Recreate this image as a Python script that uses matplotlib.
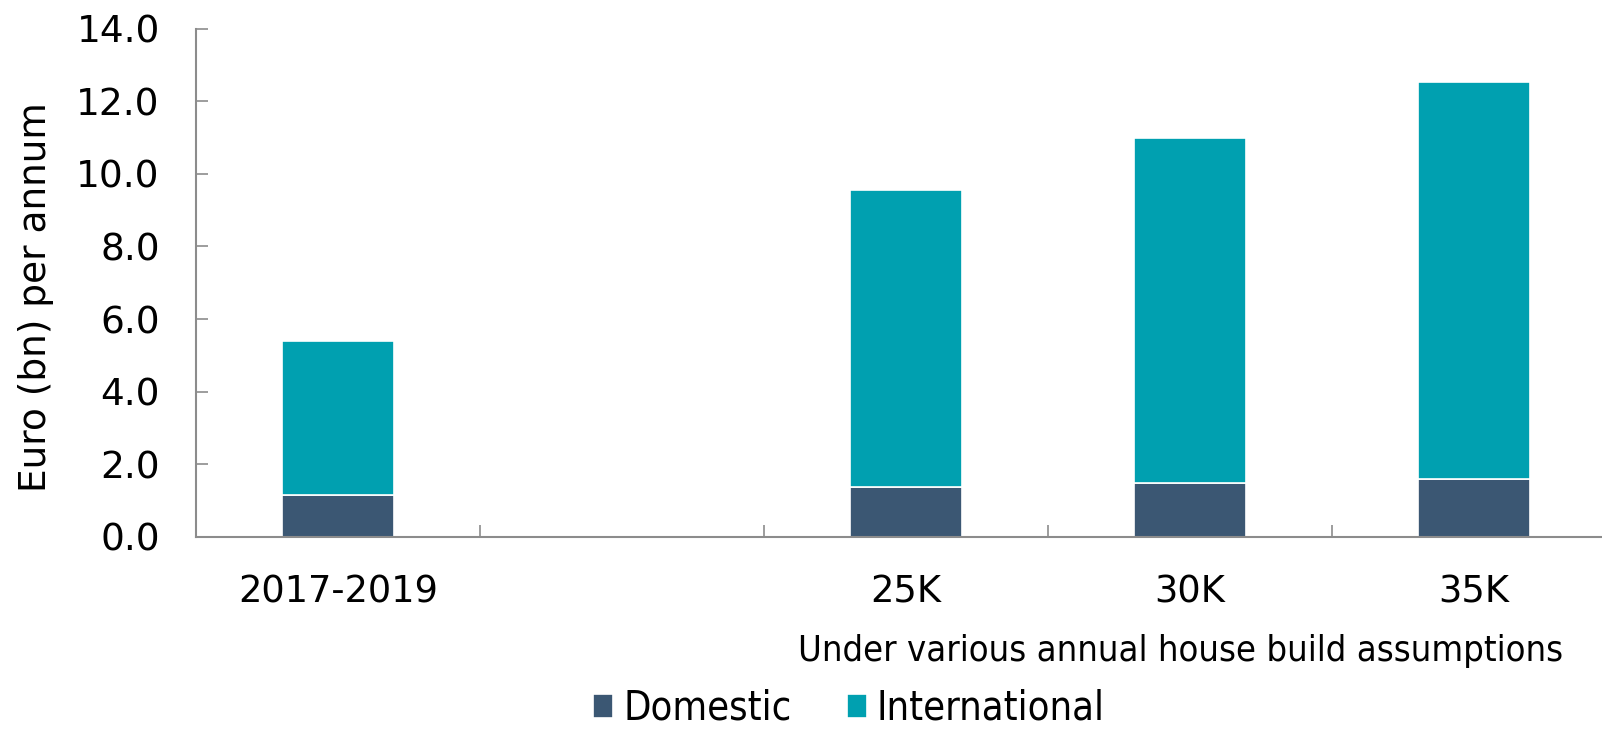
import matplotlib.pyplot as plt
import numpy as np

categorias = ["2017-2019", "", "25K", "30K", "35K"]
domestico = [1.15, np.nan, 1.38, 1.49, 1.60]
total = [5.40, np.nan, 9.56, 10.99, 12.52]
internacional = [t - d for t, d in zip(total, domestico)]

cor_dom = '#3b5773'
cor_int = '#00a0b0'
cor_eixo = '#8c8c8c'

fig = plt.figure(figsize=(16.02, 7.31), dpi=100)
ax = fig.add_axes([0.1223, 0.2654, 0.8864, 0.6955])

x = np.arange(len(categorias))
ax.bar(x, domestico, width=0.395, color=cor_dom, edgecolor='white', linewidth=1.2, label='Domestic')
ax.bar(x, internacional, width=0.395, bottom=domestico, color=cor_int, edgecolor='white', linewidth=1.2, label='International')

ax.set_xlim(-0.5, len(categorias) - 0.5)
ax.set_ylim(0, 14)
ax.set_yticks(np.arange(0, 14.1, 2))
ax.set_yticklabels(['%.1f' % v for v in np.arange(0, 14.1, 2)], fontsize=27)
ax.set_xticks(x)
ax.set_xticklabels(categorias, fontsize=26.5)
ax.set_xticks(np.arange(0.5, len(categorias) - 0.5, 1), minor=True)

ax.tick_params(axis='y', direction='in', length=8.6, width=1.2, color=cor_eixo, pad=26)
ax.tick_params(axis='x', which='major', length=0, pad=26)
ax.tick_params(axis='x', which='minor', direction='in', length=8.6, width=1.2, color=cor_eixo)

for lado in ['top', 'right']:
    ax.spines[lado].set_visible(False)
for lado in ['left', 'bottom']:
    ax.spines[lado].set_color(cor_eixo)
    ax.spines[lado].set_linewidth(1.5)

ax.set_ylabel('Euro (bn) per annum', fontsize=27)
ax.yaxis.set_label_coords(-0.0999, 0.472)

fig.text(1563 / 1602, 1 - 651 / 731, 'Under various annual house build assumptions',
         fontsize=26, ha='right', va='center', fontstretch='condensed')

fig.legend(loc='center', bbox_to_anchor=(849 / 1602, 1 - 709 / 731), ncol=2, frameon=False,
           prop={'size': 28.5, 'stretch': 'condensed'}, handlelength=0.5, handleheight=0.55,
           handletextpad=0.25, columnspacing=1.4, borderpad=0.1)

fig.savefig('out.png', dpi=100)
